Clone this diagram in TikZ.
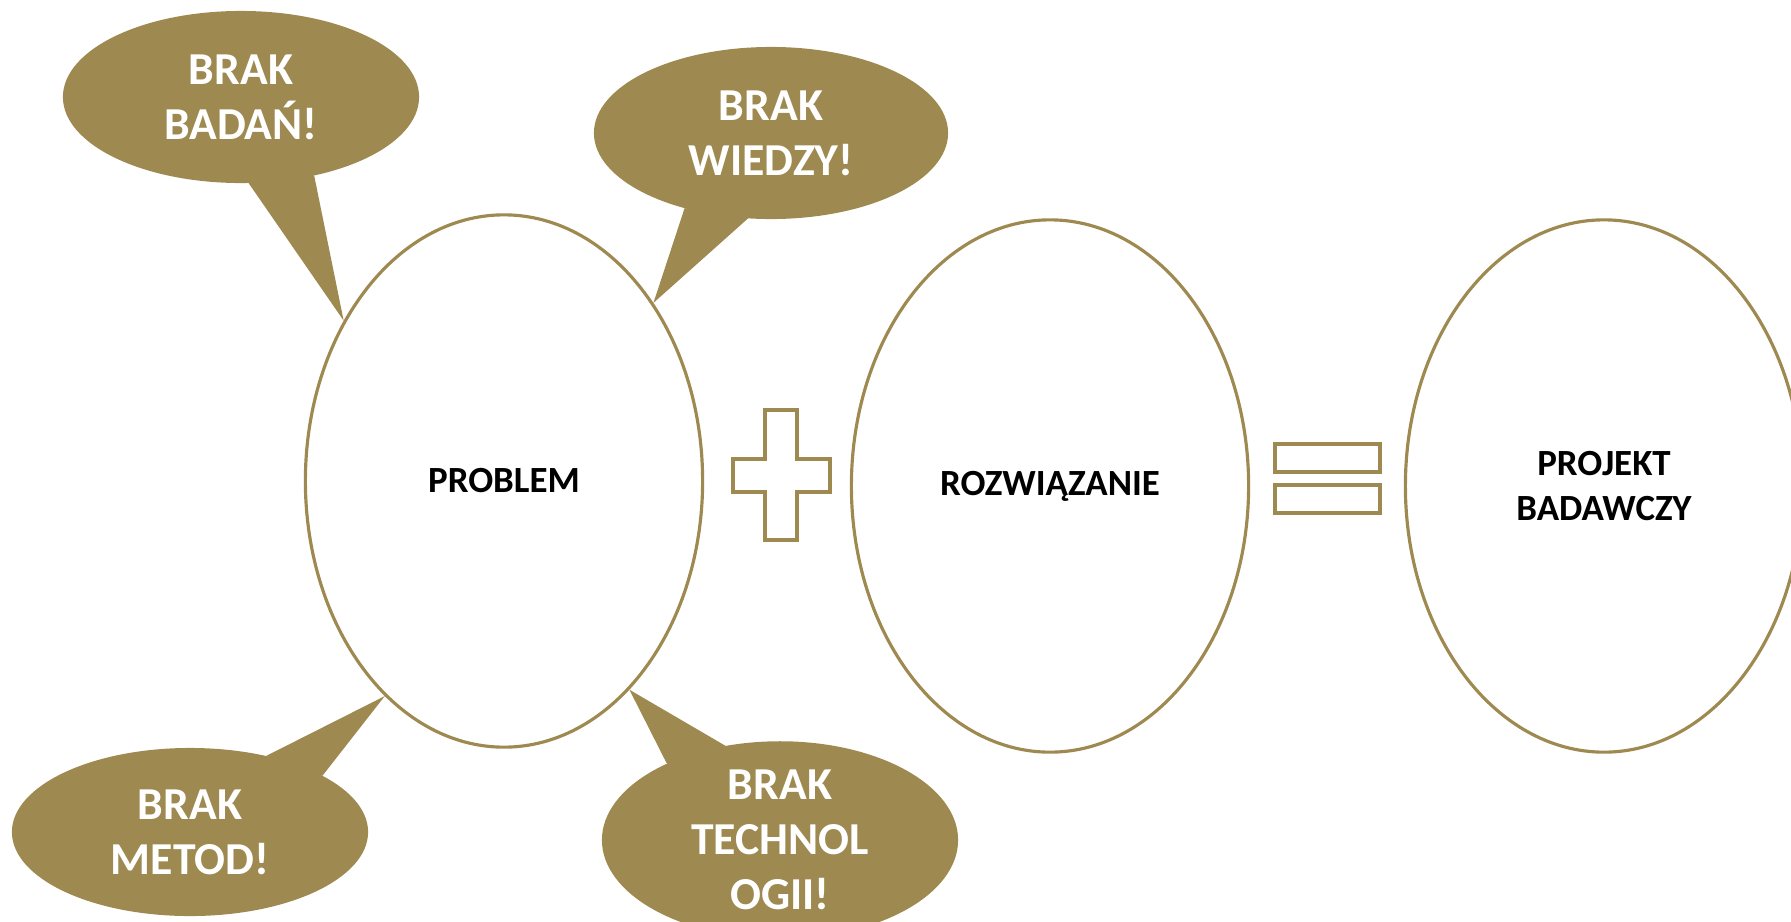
\documentclass[tikz,border=0pt]{standalone}
\usepackage{fontspec}
\setmainfont{Carlito}
\usetikzlibrary{positioning, shapes.geometric}

\definecolor{brakgold}{RGB}{158,138,80}

\tikzset{
  circ/.style={ellipse, draw=brakgold, line width=0.9pt, fill=white, inner sep=0pt,
    minimum width=3.97cm, minimum height=5.32cm, align=center,
    font=\fontsize{10.5}{12.8}\selectfont\bfseries},
  bubble/.style={ellipse, fill=brakgold, inner sep=0pt, outer sep=0pt,
    minimum width=3.56cm, minimum height=1.72cm, text=white, align=center,
    font=\fontsize{13}{15.6}\selectfont\bfseries},
  tail/.style={fill=brakgold},
  sign/.style={draw=brakgold, line width=0.9pt}
}

\begin{document}
\begin{tikzpicture}[x=0.01cm, y=-0.01cm]
\useasboundingbox (0,0) rectangle (1791,921);

% the three ovals
\node[circ] (problem) at (504,481) {PROBLEM};
\node[circ] (rozw) at (1050,486) {ROZWIĄZANIE};
\node[circ] (projekt) at (1604,486) {PROJEKT\\BADAWCZY};

% plus and equals
\draw[sign] (765,410) -- (797,410) -- (797,459) -- (830,459) -- (830,492) -- (797,492)
  -- (797,540) -- (765,540) -- (765,492) -- (733,492) -- (733,459) -- (765,459) -- cycle;
\draw[sign] (1275,444) rectangle (1380,472);
\draw[sign] (1275,485) rectangle (1380,513);

% speech bubbles
\node[bubble] (badan) at (241,97) {BRAK\\BADAŃ!};
\node[bubble, minimum width=3.54cm] (wiedzy) at (771,133) {BRAK\\WIEDZY!};
\node[bubble, minimum height=1.68cm] (metod) at (190,832) {BRAK\\METOD!};
\node[bubble, minimum height=1.74cm] (techn) at (780,840) {BRAK\\TECHNOL\\OGII!};

\fill[tail] (badan.-85) -- (problem.135) -- (badan.-47) -- cycle;
\fill[tail] (wiedzy.221) -- (problem.50) -- (wiedzy.255) -- cycle;
\fill[tail] (metod.45) -- (problem.241) -- (metod.23) -- cycle;
\fill[tail] (techn.146) -- (problem.301) -- (techn.120) -- cycle;
\end{tikzpicture}
\end{document}
